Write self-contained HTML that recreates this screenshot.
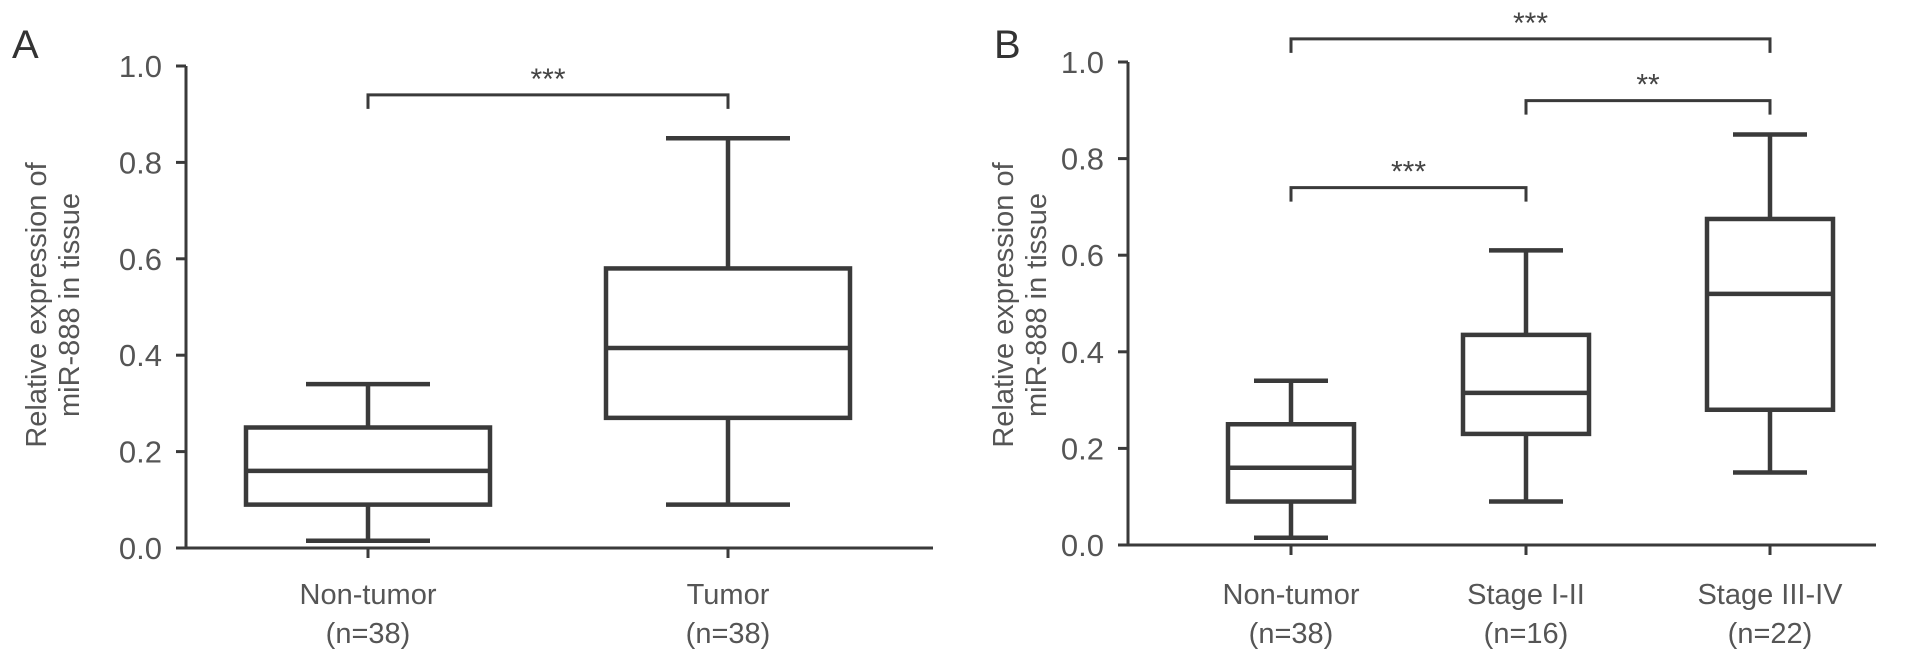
<!DOCTYPE html>
<html><head><meta charset="utf-8"><style>
body{margin:0;background:#fff;}
svg{display:block;font-family:"Liberation Sans",sans-serif;}
</style></head><body>
<svg id="chart" width="1913" height="660" viewBox="0 0 1913 660"></svg>
<script>
const catsA = ["Non-tumor","Tumor"];
const nA = ["(n=38)","(n=38)"];
const minA = [0.015, 0.09];
const q1A = [0.09, 0.27];
const medA = [0.16, 0.415];
const q3A = [0.25, 0.58];
const maxA = [0.34, 0.85];

const catsB = ["Non-tumor","Stage I-II","Stage III-IV"];
const nB = ["(n=38)","(n=16)","(n=22)"];
const minB = [0.015, 0.09, 0.15];
const q1B = [0.09, 0.23, 0.28];
const medB = [0.16, 0.315, 0.52];
const q3B = [0.25, 0.435, 0.675];
const maxB = [0.34, 0.61, 0.85];

const yTicks = [0.0,0.2,0.4,0.6,0.8,1.0];
const yTickLabels = ["0.0","0.2","0.4","0.6","0.8","1.0"];

const sigA = [{a:0,b:1,y:0.94,label:"***"}];
const sigB = [{a:0,b:2,y:1.048,label:"***"},{a:1,b:2,y:0.92,label:"**"},{a:0,b:1,y:0.74,label:"***"}];

const NS="http://www.w3.org/2000/svg";
const svg=document.getElementById('chart');
function mk(tag,attrs,parent){const e=document.createElementNS(NS,tag);for(const k in attrs)e.setAttribute(k,attrs[k]);(parent||svg).appendChild(e);return e;}
const C="#3a3a3a";

function panel(cfg){
  const g=mk('g',{});
  
  
  const y=v=>cfg.y0-(cfg.y0-cfg.y1)*v;
  const x=i=>cfg.xs[i];
  const ya=mk('line',{x1:cfg.ax,y1:y(1),x2:cfg.ax,y2:cfg.y0,stroke:C,'stroke-width':3},g);
  
  
  const xa=mk('line',{x1:cfg.ax,y1:cfg.y0,x2:cfg.axEnd,y2:cfg.y0,stroke:C,'stroke-width':3},g);
  
  
  yTicks.forEach((t,i)=>{
    const tk=mk('line',{x1:cfg.ax-10,y1:y(t),x2:cfg.ax,y2:y(t),stroke:C,'stroke-width':3},g);
    
    
    const tl=mk('text',{x:cfg.ax-24,y:y(t)+11,'text-anchor':'end','font-size':31,fill:'#555'},g);
    tl.textContent=yTickLabels[i];
    
    
  });
  cfg.xs.forEach((cx,i)=>{
    const xt=mk('line',{x1:cx,y1:cfg.y0,x2:cx,y2:cfg.y0+10,stroke:C,'stroke-width':3},g);
    
    
    const l1=mk('text',{x:cx,y:604,'text-anchor':'middle','font-size':29,fill:'#555'},g);
    l1.textContent=cfg.cats[i];
    
    
    const l2=mk('text',{x:cx,y:643,'text-anchor':'middle','font-size':29,fill:'#555'},g);
    l2.textContent=cfg.ns[i];
    
    
    const bw=cfg.bw, cw=cfg.cw;
    const bg=mk('g',{stroke:C,'stroke-width':4.5,fill:'none'},g);
    
    
    mk('line',{x1:cx,y1:y(cfg.max[i]),x2:cx,y2:y(cfg.q3[i])},bg);
    mk('line',{x1:cx,y1:y(cfg.min[i]),x2:cx,y2:y(cfg.q1[i])},bg);
    mk('line',{x1:cx-cw/2,y1:y(cfg.max[i]),x2:cx+cw/2,y2:y(cfg.max[i])},bg);
    mk('line',{x1:cx-cw/2,y1:y(cfg.min[i]),x2:cx+cw/2,y2:y(cfg.min[i])},bg);
    mk('rect',{x:cx-bw/2,y:y(cfg.q3[i]),width:bw,height:y(cfg.q1[i])-y(cfg.q3[i])},bg);
    mk('line',{x1:cx-bw/2,y1:y(cfg.med[i]),x2:cx+bw/2,y2:y(cfg.med[i])},bg);
  });
  cfg.sig.forEach(s=>{
    const by=y(s.y), xa1=x(s.a), xb=x(s.b);
    const br=mk('path',{d:`M${xa1},${by+14}V${by}H${xb}V${by+14}`,stroke:C,'stroke-width':3,fill:'none'},g);
    
    
    const st=mk('text',{x:(xa1+xb)/2,y:by-6,'text-anchor':'middle','font-size':30,fill:'#444'},g);
    st.textContent=s.label;
    
    
  });
  const tt=mk('text',{transform:`translate(${cfg.tx},305) rotate(-90)`,'text-anchor':'middle','font-size':29,fill:'#555'},g);
  const t1=mk('tspan',{x:0,dy:0},tt); t1.textContent="Relative expression of";
  const t2=mk('tspan',{x:0,dy:33},tt); t2.textContent="miR-888 in tissue";
  
  
  const pl=mk('text',{x:cfg.lx,y:58,'font-size':40,fill:'#333'},g);
  pl.textContent=cfg.letter;
  
  
}
panel({name:'panel-a',letter:'A',lx:12,tx:46,ax:186,axEnd:933,y0:548,y1:66,xs:[368,728],bw:244,cw:124,
  cats:catsA,ns:nA,min:minA,q1:q1A,med:medA,q3:q3A,max:maxA,sig:sigA});
panel({name:'panel-b',letter:'B',lx:994,tx:1013,ax:1128,axEnd:1876,y0:545,y1:62,xs:[1291,1526,1770],bw:126,cw:74,
  cats:catsB,ns:nB,min:minB,q1:q1B,med:medB,q3:q3B,max:maxB,sig:sigB});
</script>
</body></html>
